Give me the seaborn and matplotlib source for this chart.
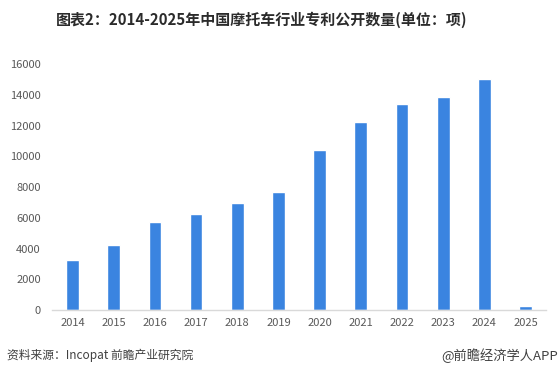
import matplotlib
matplotlib.use("Agg")
import matplotlib.pyplot as plt
import seaborn as sns
import pandas as pd

years = ["2014", "2015", "2016", "2017", "2018", "2019", "2020", "2021", "2022", "2023", "2024", "2025"]
patents = [3250, 4230, 5720, 6240, 6960, 7670, 10400, 12230, 13400, 13850, 15020, 230]
yticks = [0, 2000, 4000, 6000, 8000, 10000, 12000, 14000, 16000]

title = "图表2：2014-2025年中国摩托车行业专利公开数量(单位：项)"
source = "资料来源：Incopat 前瞻产业研究院"
brand = "@前瞻经济学人APP"

sns.set_theme(style="white")
plt.rcParams['font.family'] = ['Noto Sans CJK SC', 'DejaVu Sans']

df = pd.DataFrame({"year": years, "count": patents})

fig = plt.figure(figsize=(5.59, 3.79), dpi=100)
ax = fig.add_axes([0.093, 0.182, 0.884, 0.649])
sns.barplot(data=df, x="year", y="count", color="#3A84E0", width=0.31,
            saturation=1, ax=ax)

ax.set_xlim(-0.5, len(years) - 0.5)
ax.set_ylim(0, 16000)
ax.set_yticks(yticks)
ax.set_yticklabels([str(t) for t in yticks])
ax.set_xlabel("")
ax.set_ylabel("")
for s in ["top", "right", "left"]:
    ax.spines[s].set_visible(False)
ax.spines["bottom"].set_color("#D9D9D9")
ax.spines["bottom"].set_linewidth(1)
ax.tick_params(axis="both", length=0, labelsize=8, colors="#595959")
ax.tick_params(axis="y", pad=8)
ax.tick_params(axis="x", pad=6)

fig.text(0.468, 0.947, title, ha="center", va="center", fontsize=10.8,
         fontweight="bold", color="#2B2B2B")
fig.text(0.012, 0.062, source, ha="left", va="center", fontsize=8.5, color="#404040")
fig.text(0.998, 0.062, brand, ha="right", va="center", fontsize=9.5, color="#404040")

fig.savefig("out.png", dpi=100)
